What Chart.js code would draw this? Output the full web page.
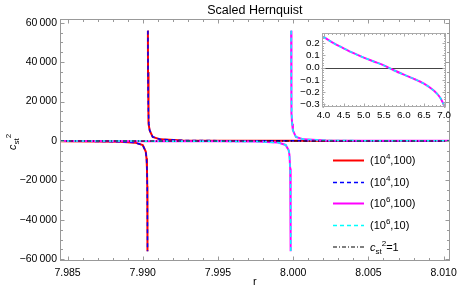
<!DOCTYPE html>
<html>
<head>
<meta charset="utf-8">
<script src="https://cdn.jsdelivr.net/npm/chart.js@4.4.0/dist/chart.umd.min.js"></script>
<style>
  body { margin: 0; background: #fff; }
  #wrap { position: relative; width: 463px; height: 297px; }
  #main { position: absolute; left: 0; top: 0; }
  #inset { position: absolute; left: 300px; top: 25px; }
</style>
</head>
<body>
<div id="wrap">
  <canvas id="main" width="463" height="297"></canvas>
  <canvas id="inset" width="155" height="100"></canvas>
</div>
<script>
Chart.defaults.font.family = "'Liberation Sans', Arial, sans-serif";
Chart.defaults.color = '#000';

// axis ticks
var xTicks = [7.985, 7.990, 7.995, 8.000, 8.005, 8.010];
var yTicks = [-60000, -40000, -20000, 0, 20000, 40000, 60000];
var inXTicks = [4.0, 4.5, 5.0, 5.5, 6.0, 6.5, 7.0];
var inYTicks = [-0.3, -0.2, -0.1, 0.0, 0.1, 0.2];

// (10^4, ..) curves - pole near r = 7.99033
var rA = [7.9845, 7.9870, 7.9885, 7.9895, 7.9900, 7.9902, 7.99025, 7.99028, 7.99030, 7.99031, 7.990318,
          7.99033,
          7.990342, 7.99035, 7.99036, 7.99038, 7.99041, 7.99046, 7.99066, 7.99116, 7.99266, 7.9960, 8.0000, 8.0050, 8.0104];
var cA = [-120, -210, -380, -840, -2100, -5400, -8800, -14000, -23000, -35000, -56000,
          null,
          56000, 35000, 23000, 14000, 8800, 5400, 2100, 840, 300, 120, 70, 45, 35];

// (10^6, ..) curves - pole near r = 7.99985
var rB = [7.9845, 7.9900, 7.9950, 7.9975, 7.9990, 7.9995, 7.9997, 7.99975, 7.99980, 7.99982, 7.99983, 7.999838,
          7.99985,
          7.999862, 7.99987, 7.99988, 7.99990, 7.99993, 7.99998, 8.00018, 8.00068, 8.00218, 8.0050, 8.0104];
var cB = [-46, -71, -144, -298, -824, -2000, -4700, -7000, -14000, -23000, -35000, -56000,
          null,
          56000, 35000, 23000, 14000, 8800, 5400, 2100, 840, 300, 136, 66];

// c_st^2 = 1 reference
var rRef = [7.9845, 8.0104];
var cRef = [1, 1];

// inset, r from 4 to 7
var rIn = [4.0, 4.25, 4.5, 4.75, 5.0, 5.25, 5.5, 5.75, 6.0, 6.25, 6.5, 6.75, 6.9, 7.0];
var cIn = [0.252, 0.200, 0.158, 0.118, 0.082, 0.050, 0.018, -0.022, -0.058, -0.092, -0.132, -0.190, -0.245, -0.310];

// legend: [before sup, sup, after sup]
var seriesNames = [['(10', '4', ',100)'], ['(10', '4', ',10)'], ['(10', '6', ',100)'], ['(10', '6', ',10)']];

function pts(xs, ys) {
    return xs.map(function (x, i) { return { x: x, y: ys[i] }; });
}

function fmtBig(v) {
    var s = Math.abs(v).toString().replace(/\B(?=(\d{3})+(?!\d))/g, '\u2009');
    return (v < 0 ? '\u2212' : '') + s;
}
function fmtSmall(v) {
    var s = Math.abs(v).toFixed(1);
    return (v < -1e-9 ? '\u2212' : '') + s;
}

function fixTicks(arr) {
    return function (scale) { scale.ticks = arr.map(function (v) { return { value: v }; }); };
}

// frame with inward ticks on all four sides
function drawFrame(chart, o) {
    var ctx = chart.ctx, a = chart.chartArea, x = chart.scales.x, y = chart.scales.y;
    var L = Math.round(a.left) + 0.5, R = Math.round(a.right) - 0.5;
    var T = Math.round(a.top) + 0.5, B = Math.round(a.bottom) - 0.5;
    ctx.save();
    ctx.strokeStyle = o.color;
    ctx.lineWidth = 1;
    ctx.strokeRect(L, T, R - L, B - T);
    ctx.beginPath();
    function xt(v, len) {
        var p = Math.round(x.getPixelForValue(v)) + 0.5;
        ctx.moveTo(p, B); ctx.lineTo(p, B - len);
        ctx.moveTo(p, T); ctx.lineTo(p, T + len);
    }
    function yt(v, len) {
        var p = Math.round(y.getPixelForValue(v)) + 0.5;
        ctx.moveTo(L, p); ctx.lineTo(L + len, p);
        ctx.moveTo(R, p); ctx.lineTo(R - len, p);
    }
    var i;
    for (i = Math.ceil(x.min / o.xMinor - 1e-6); i <= Math.floor(x.max / o.xMinor + 1e-6); i++) xt(i * o.xMinor, o.minorLen);
    for (i = Math.ceil(y.min / o.yMinor - 1e-6); i <= Math.floor(y.max / o.yMinor + 1e-6); i++) yt(i * o.yMinor, o.minorLen);
    o.xMajor.forEach(function (v) { xt(v, o.majorLen); });
    o.yMajor.forEach(function (v) { yt(v, o.majorLen); });
    ctx.stroke();
    ctx.restore();
}

var framePlugin = {
    id: 'frame',
    afterDatasetsDraw: function (chart) {
        drawFrame(chart, { color: '#999', xMinor: 0.001, yMinor: 5000, xMajor: xTicks, yMajor: yTicks, majorLen: 4, minorLen: 2.5 });
    }
};

// y title c_st^2 and the legend
var labelPlugin = {
    id: 'labels',
    afterDraw: function (chart) {
        var ctx = chart.ctx;
        var big = "11px 'Liberation Sans', Arial, sans-serif";
        var bigI = "italic 11px 'Liberation Sans', Arial, sans-serif";
        var small = "8px 'Liberation Sans', Arial, sans-serif";
        function cst(x0, y0, tail) {
            var xx = x0;
            ctx.font = bigI; ctx.fillText('c', xx, y0); xx += ctx.measureText('c').width;
            ctx.font = small; ctx.fillText('st', xx, y0 + 3);
            var w = ctx.measureText('st').width;
            ctx.fillText('2', xx + w, y0 - 5); xx += w + ctx.measureText('2').width;
            if (tail) { ctx.font = big; ctx.fillText(tail, xx, y0); }
        }
        ctx.save();
        ctx.fillStyle = '#000';
        ctx.textBaseline = 'alphabetic';
        ctx.textAlign = 'left';
        // axis title
        ctx.save();
        ctx.translate(16, 150);
        ctx.rotate(-Math.PI / 2);
        cst(0, 0, '');
        ctx.restore();

        // legend
        var ds = chart.data.datasets;
        var rows = [160, 182, 203, 225, 246.5];
        rows.forEach(function (yy, i) {
            var d = ds[i];
            ctx.beginPath();
            ctx.strokeStyle = d.borderColor;
            ctx.lineWidth = d.borderWidth;
            ctx.setLineDash(d.borderDash || []);
            ctx.moveTo(333, yy + 0.5); ctx.lineTo(364, yy + 0.5);
            ctx.stroke();
            ctx.setLineDash([]);
            var ty = yy + 4;
            if (i < 4) {
                var p = seriesNames[i], xx = 370;
                ctx.font = big; ctx.fillText(p[0], xx, ty); xx += ctx.measureText(p[0]).width;
                ctx.font = small; ctx.fillText(p[1], xx, ty - 5); xx += ctx.measureText(p[1]).width;
                ctx.font = big; ctx.fillText(p[2], xx, ty);
            } else {
                cst(370, ty, '=1');
            }
        });
        ctx.restore();
    }
};

new Chart(document.getElementById('main'), {
    type: 'line',
    data: {
        datasets: [
            { label: 'A100', data: pts(rA, cA), borderColor: 'rgb(255,0,0)', borderWidth: 2, order: 5 },
            { label: 'A10', data: pts(rA, cA), borderColor: 'rgb(0,0,255)', borderWidth: 1.5, borderDash: [4, 3], order: 4 },
            { label: 'B100', data: pts(rB, cB), borderColor: 'rgb(255,0,255)', borderWidth: 2, order: 3 },
            { label: 'B10', data: pts(rB, cB), borderColor: 'rgb(0,255,255)', borderWidth: 1.5, borderDash: [4, 3], order: 2 },
            { label: 'ref', data: pts(rRef, cRef), borderColor: '#000', borderWidth: 1.2, borderDash: [4, 2, 1, 2], order: 1 }
        ]
    },
    options: {
        responsive: false,
        animation: false,
        devicePixelRatio: 1,
        parsing: false,
        elements: { point: { radius: 0 }, line: { tension: 0, fill: false } },
        spanGaps: false,
        layout: { autoPadding: false, padding: { left: 0, right: 5.5, top: 0, bottom: 0 } },
        scales: {
            x: {
                type: 'linear', min: 7.9845, max: 8.0104,
                grid: { display: false, drawTicks: false }, border: { display: false },
                afterBuildTicks: fixTicks(xTicks),
                afterFit: function (s) { s.height = 36; },
                ticks: { padding: 6, font: { size: 10.5 }, color: '#000', maxRotation: 0, autoSkip: false,
                         callback: function (v) { return v.toFixed(3); } },
                title: { display: true, text: 'r', font: { size: 11 }, color: '#000', padding: { top: 0, bottom: 8.4 } }
            },
            y: {
                type: 'linear', min: -60900, max: 61900,
                grid: { display: false, drawTicks: false }, border: { display: false },
                afterBuildTicks: fixTicks(yTicks),
                afterFit: function (s) { s.width = 60; },
                ticks: { padding: 3, font: { size: 10.5 }, color: '#000', autoSkip: false, callback: fmtBig }
            }
        },
        plugins: {
            legend: { display: false },
            tooltip: { enabled: false },
            title: { display: true, text: 'Scaled Hernquist', fullSize: false, color: '#000',
                     font: { size: 12.5, weight: 'normal', lineHeight: 1 }, padding: { top: 4, bottom: 2.5 } }
        }
    },
    plugins: [framePlugin, labelPlugin]
});

var insetFrame = {
    id: 'insetFrame',
    beforeDatasetsDraw: function (chart) {
        var ctx = chart.ctx, a = chart.chartArea, p = Math.round(chart.scales.y.getPixelForValue(0)) + 0.5;
        ctx.save();
        ctx.strokeStyle = '#444';
        ctx.lineWidth = 1;
        ctx.beginPath(); ctx.moveTo(a.left, p); ctx.lineTo(a.right, p); ctx.stroke();
        ctx.restore();
    },
    afterDatasetsDraw: function (chart) {
        drawFrame(chart, { color: '#aaa', xMinor: 0.1, yMinor: 0.02, xMajor: inXTicks, yMajor: inYTicks, majorLen: 3, minorLen: 1.5 });
    }
};

new Chart(document.getElementById('inset'), {
    type: 'line',
    data: {
        datasets: [
            { label: 'B100', data: pts(rIn, cIn), borderColor: 'rgb(255,0,255)', borderWidth: 2, order: 2 },
            { label: 'B10', data: pts(rIn, cIn), borderColor: 'rgb(0,255,255)', borderWidth: 1.5, borderDash: [3, 3], order: 1 }
        ]
    },
    options: {
        responsive: false,
        animation: false,
        devicePixelRatio: 1,
        parsing: false,
        elements: { point: { radius: 0 }, line: { tension: 0.3, fill: false } },
        layout: { autoPadding: false, padding: { left: 0, right: 9.3, top: 6, bottom: 0 } },
        scales: {
            x: {
                type: 'linear', min: 3.955, max: 7.04,
                grid: { display: false, drawTicks: false }, border: { display: false },
                afterBuildTicks: fixTicks(inXTicks),
                afterFit: function (s) { s.height = 18.3; },
                ticks: { padding: 2.5, font: { size: 9.8 }, color: '#000', maxRotation: 0, autoSkip: false,
                         callback: function (v) { return v.toFixed(1); } }
            },
            y: {
                type: 'linear', min: -0.32, max: 0.284,
                grid: { display: false, drawTicks: false }, border: { display: false },
                afterBuildTicks: fixTicks(inYTicks),
                afterFit: function (s) { s.width = 21.7; },
                ticks: { padding: 2, font: { size: 9.8 }, color: '#000', autoSkip: false, callback: fmtSmall }
            }
        },
        plugins: { legend: { display: false }, tooltip: { enabled: false }, title: { display: false } }
    },
    plugins: [insetFrame]
});
</script>
</body>
</html>
